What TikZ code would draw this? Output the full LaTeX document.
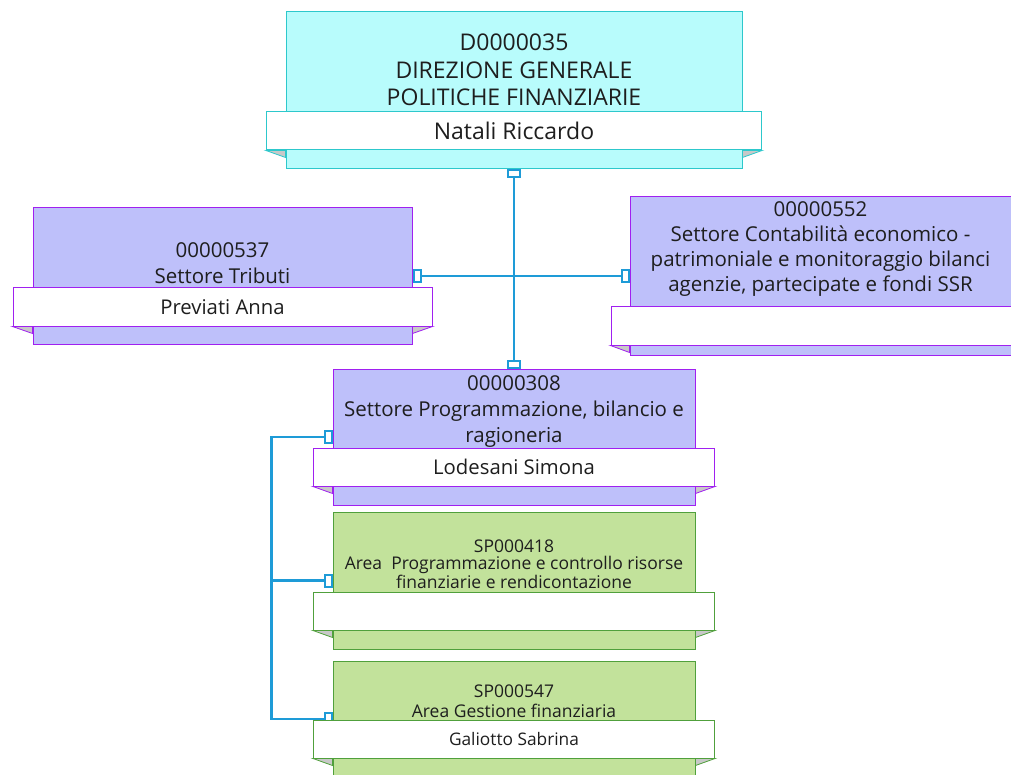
\documentclass[tikz,border=0pt]{standalone}
\usepackage{fontspec}
\setmainfont{Open Sans}
\usetikzlibrary{positioning}
\definecolor{topfill}{RGB}{184,252,252}
\definecolor{topline}{RGB}{45,200,204}
\definecolor{setfill}{RGB}{190,192,250}
\definecolor{setline}{RGB}{160,32,240}
\definecolor{areafill}{RGB}{194,226,155}
\definecolor{arealine}{RGB}{80,160,60}
\definecolor{linkblue}{RGB}{30,155,215}
\definecolor{foldgray}{RGB}{200,200,200}
\definecolor{txt}{RGB}{30,30,30}

\begin{document}
\begin{tikzpicture}[x=1pt,y=-1pt,line width=1pt,text=txt,
  body/.style={draw,inner sep=0pt},
  rib/.style={draw,fill=white,inner sep=0pt,minimum height=38pt},
  topbox/.style={body,fill=topfill,draw=topline},
  setbox/.style={body,fill=setfill,draw=setline},
  areabox/.style={body,fill=areafill,draw=arealine},
  vport/.style={draw=linkblue,fill=white,line width=2pt,inner sep=0pt,minimum width=12pt,minimum height=7pt},
  hport/.style={draw=linkblue,fill=white,line width=2pt,inner sep=0pt,minimum width=7pt,minimum height=12pt},
  link/.style={draw=linkblue,line width=2.2pt},
  bigtxt/.style={align=center,font=\fontsize{23}{27.5}\selectfont},
  midtxt/.style={align=center,font=\fontsize{20.5}{26}\selectfont},
  smalltxt/.style={align=center,font=\fontsize{17.5}{17.5}\selectfont}]

  \fill[white] (0,0) rectangle (1011,775);
  \useasboundingbox (0,0) rectangle (1011,775);

  % unit bodies
  \node[topbox,minimum width=456pt,minimum height=157pt] (top) at (514,90.5) {};
  \node[setbox,minimum width=379pt,minimum height=136pt] (s537) at (222.5,276) {};
  \node[setbox,minimum width=381pt,minimum height=158pt] (s552) at (820.5,276) {};
  \node[setbox,minimum width=362pt,minimum height=136pt] (s308) at (514,437) {};
  \node[areabox,minimum width=362pt,minimum height=137pt] (a418) at (514,580.5) {};
  \node[areabox,minimum width=362pt,minimum height=136pt] (a547) at (514,729) {};

  % unit texts
  \node[bigtxt] (top-t) at (514,70) {D0000035\\DIREZIONE GENERALE\\POLITICHE FINANZIARIE};
  \node[midtxt] (s537-t) at (222.5,263) {00000537\\Settore Tributi};
  \node[midtxt,font=\fontsize{20.5}{25.3}\selectfont] (s552-t) at (820.5,249) {00000552\\Settore Contabilità economico -\\patrimoniale e monitoraggio bilanci\\agenzie, partecipate e fondi SSR};
  \node[midtxt] (s308-t) at (514,411.5) {00000308\\Settore Programmazione, bilancio e\\ragioneria};
  \node[smalltxt] (a418-t) at (514,564) {SP000418\\Area\ \ Programmazione e controllo risorse\\finanziarie e rendicontazione};
  \node[smalltxt,font=\fontsize{17.5}{20}\selectfont] (a547-t) at (514,701) {SP000547\\Area Gestione finanziaria};

  % ports
  \node[vport,anchor=north] (top-p) at (top.south) {};
  \node[vport,anchor=south] (s308-p) at (s308.north) {};
  \node[hport,anchor=west] (s537-p) at (s537.east) {};
  \node[hport,anchor=east] (s552-p) at (s552.west) {};
  \node[hport,anchor=east] (s308-q) at (s308.west) {};
  \node[hport,anchor=east] (a418-p) at (a418.west) {};
  \node[hport,anchor=east] (a547-p) at ([yshift=10pt]a547.west) {};

  % links
  \draw[link] (top-p.south) -- (s308-p.north);
  \draw[link] (s537-p.east) -- (s552-p.west);
  \coordinate (bus) at ([xshift=-52pt]s308-q.west);
  \draw[link] (s308-q.west) -- (bus) |- (a547-p.west);
  \draw[link] (bus |- a418-p.west) -- (a418-p.west);

  % name ribbons
  \node[rib,draw=topline,minimum width=495pt,below=100pt of top.north,font=\fontsize{23}{25}\selectfont] (top-r) {Natali Riccardo};
  \node[rib,draw=setline,minimum width=419pt,below=80pt of s537.north,font=\fontsize{20.3}{22}\selectfont] (s537-r) {Previati Anna};
  \node[rib,draw=setline,minimum width=419pt,below=110pt of s552.north] (s552-r) {};
  \node[rib,draw=setline,minimum width=401pt,below=79pt of s308.north,font=\fontsize{20.3}{22}\selectfont] (s308-r) {Lodesani Simona};
  \node[rib,draw=arealine,minimum width=401pt,below=80pt of a418.north] (a418-r) {};
  \node[rib,draw=arealine,minimum width=401pt,below=59pt of a547.north,font=\fontsize{17.3}{19}\selectfont] (a547-r) {Galiotto Sabrina};

  % folds under ribbons
  \foreach \u/\c in {top/topline,s537/setline,s552/setline,s308/setline,a418/arealine,a547/arealine} {
    \filldraw[fill=foldgray,draw=\c,line width=0.8pt] (\u-r.south west) -- (\u-r.south west -| \u.west) -- ++(0,7) -- cycle;
    \filldraw[fill=foldgray,draw=\c,line width=0.8pt] (\u-r.south east) -- (\u-r.south east -| \u.east) -- ++(0,7) -- cycle;
  }

\end{tikzpicture}
\end{document}
